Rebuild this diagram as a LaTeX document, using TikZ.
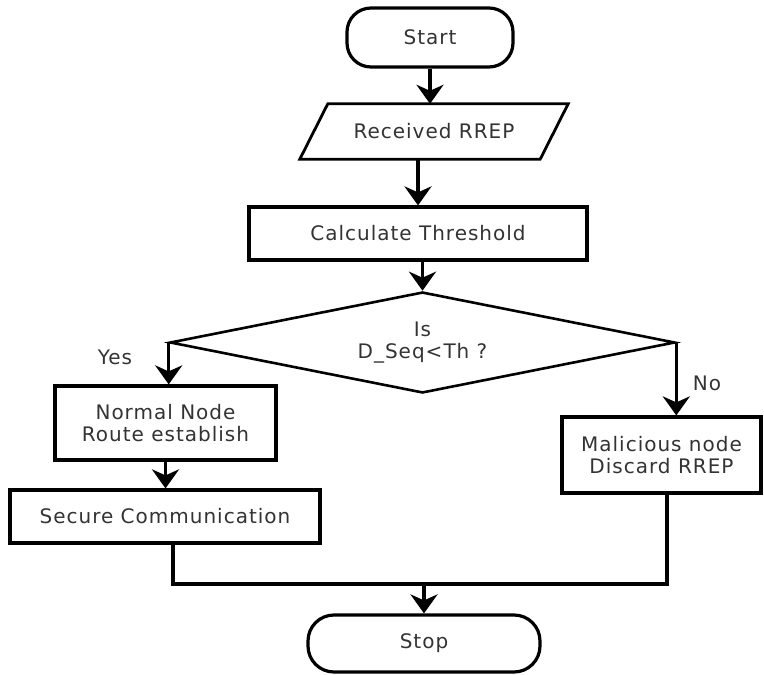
\documentclass[tikz,border=0pt]{standalone}
\usepackage{fontspec}
\setmainfont{DejaVu Sans}[LetterSpace=5]
\usetikzlibrary{arrows.meta,shapes.geometric}
\begin{document}
\begin{tikzpicture}[x=1pt,y=-1pt,
  font=\fontsize{20}{21.5}\selectfont, text=black!80,
  box/.style={draw=black, line width=3.2pt, rectangle, inner sep=0pt, align=center},
  arr/.style={draw=black, line width=3.5pt, -{Stealth[length=19pt,width=27pt,inset=6pt]}},
  ln/.style={draw=black, line width=3.2pt}]
\path[use as bounding box] (0,0) rectangle (764,675);

\node[box, rounded corners=24pt, minimum width=166pt, minimum height=59pt] (start) at (430,37.5) {Start};

\node[inner sep=0pt, minimum width=240pt, minimum height=55pt] (recv) at (434,131.5) {Received RREP};
\draw[line width=2.8pt, line join=miter] ([xshift=14pt]recv.north west) -- ([xshift=14pt]recv.north east) -- ([xshift=-14pt]recv.south east) -- ([xshift=-14pt]recv.south west) -- cycle;

\node[box, minimum width=338pt, minimum height=53pt] (calc) at (418,233.5) {Calculate Threshold};

\node[diamond, draw=black, line width=2.6pt, minimum width=505pt, minimum height=101pt, inner sep=0pt, aspect=5, align=center] (dec) at (422.5,342.5) {Is\\D\_Seq<Th ?};

\node[box, minimum width=221pt, minimum height=74pt] (norm) at (165.5,423) {Normal Node\\Route establish};
\node[box, minimum width=310pt, minimum height=53pt] (sec) at (165,516.5) {Secure Communication};
\node[box, minimum width=199pt, minimum height=76pt] (mal) at (661.5,455) {Malicious node\\Discard RREP};
\node[box, rounded corners=26pt, minimum width=232pt, minimum height=57pt] (stop) at (424,643.5) {Stop};

\node (yes) at (115,357) {Yes};
\node (no) at (707,383) {No};

\coordinate (j1) at (173,584);
\coordinate (j2) at (667,584);

\draw[arr] (start.south) -- (start.south |- recv.north);
\draw[arr] (recv.south -| calc.north) -- (calc.north);
\draw[arr] (calc.south -| dec.north) -- (dec.north);
\draw[arr] (dec.west) -- (dec.west |- norm.north);
\draw[arr] (dec.east) -- (dec.east |- mal.north);
\draw[arr] (norm.south) -- (norm.south |- sec.north);
\draw[ln] (sec.south -| j1) -- (j1) -- (j2) -- (mal.south -| j2);
\draw[arr] (stop.north |- j1) -- (stop.north);
\end{tikzpicture}
\end{document}
